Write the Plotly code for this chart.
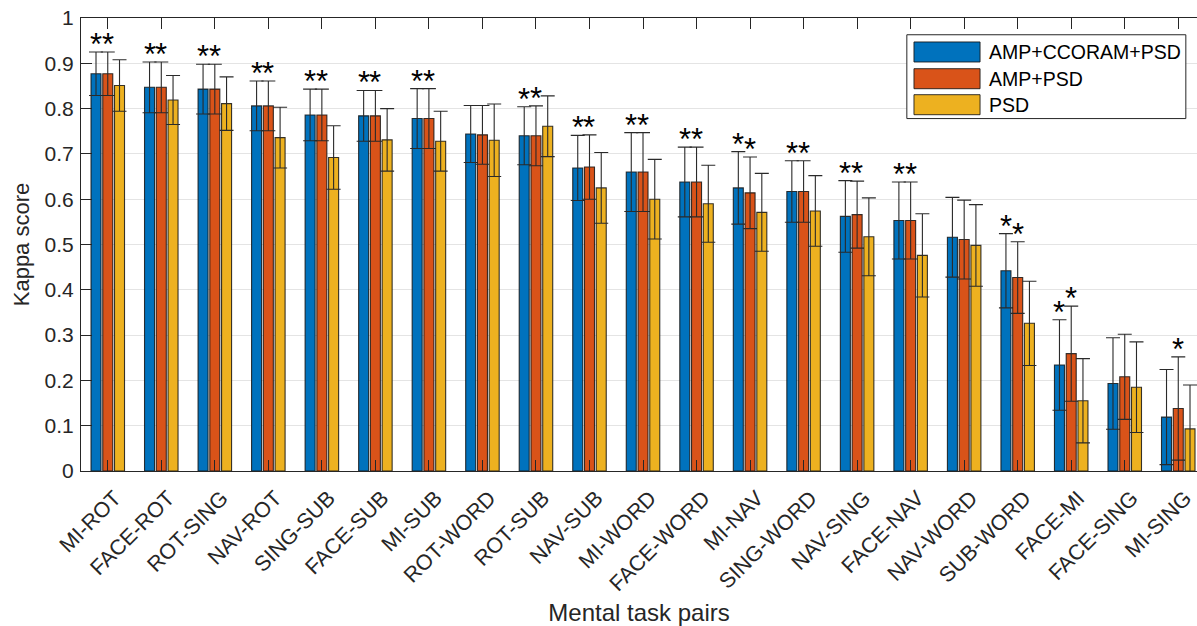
import plotly.graph_objects as go

categories = ["MI-ROT", "FACE-ROT", "ROT-SING", "NAV-ROT", "SING-SUB", "FACE-SUB", "MI-SUB",
              "ROT-WORD", "ROT-SUB", "NAV-SUB", "MI-WORD", "FACE-WORD", "MI-NAV", "SING-WORD",
              "NAV-SING", "FACE-NAV", "NAV-WORD", "SUB-WORD", "FACE-MI", "FACE-SING", "MI-SING"]

series_names = ["AMP+CCORAM+PSD", "AMP+PSD", "PSD"]

amp_ccoram_psd = [0.877, 0.847, 0.843, 0.806, 0.786, 0.784, 0.778, 0.744, 0.740, 0.669, 0.660,
                  0.638, 0.625, 0.617, 0.562, 0.553, 0.516, 0.442, 0.234, 0.193, 0.119]
amp_ccoram_psd_std = [0.048, 0.056, 0.055, 0.055, 0.057, 0.056, 0.066, 0.063, 0.064, 0.072, 0.087,
                      0.077, 0.080, 0.068, 0.079, 0.085, 0.088, 0.082, 0.100, 0.101, 0.105]
amp_psd = [0.877, 0.847, 0.843, 0.806, 0.786, 0.784, 0.778, 0.742, 0.740, 0.671, 0.660,
           0.638, 0.614, 0.617, 0.566, 0.553, 0.511, 0.427, 0.259, 0.208, 0.138]
amp_psd_std = [0.048, 0.056, 0.055, 0.055, 0.057, 0.056, 0.066, 0.065, 0.066, 0.071, 0.087,
               0.077, 0.079, 0.068, 0.074, 0.085, 0.087, 0.079, 0.105, 0.094, 0.114]
psd = [0.851, 0.819, 0.811, 0.736, 0.692, 0.731, 0.728, 0.730, 0.761, 0.625, 0.600,
       0.590, 0.571, 0.574, 0.517, 0.476, 0.498, 0.326, 0.155, 0.185, 0.093]
psd_std = [0.057, 0.054, 0.059, 0.067, 0.070, 0.069, 0.066, 0.080, 0.067, 0.078, 0.088,
           0.085, 0.086, 0.078, 0.086, 0.092, 0.090, 0.093, 0.093, 0.100, 0.097]

# significance markers (1 = '*' above the bar)
sig_amp_ccoram_psd = [1, 1, 1, 1, 1, 1, 1, 0, 1, 1, 1, 1, 1, 1, 1, 1, 0, 1, 1, 0, 0]
sig_amp_psd = [1, 1, 1, 1, 1, 1, 1, 0, 1, 1, 1, 1, 1, 1, 1, 1, 0, 1, 1, 0, 1]

colors = ["#0072BD", "#D95319", "#EDB120"]
slot = 0.2195
bar_w = 0.187
shifts = [-slot, 0.0, slot]

idx = list(range(1, len(categories) + 1))
values = [amp_ccoram_psd, amp_psd, psd]
stds = [amp_ccoram_psd_std, amp_psd_std, psd_std]
sigs = [sig_amp_ccoram_psd, sig_amp_psd, None]

FONT = "Liberation Sans, Arial, sans-serif"

fig = go.Figure()
for name, vals, sd, col, sh in zip(series_names, values, stds, colors, shifts):
    fig.add_trace(go.Bar(
        x=idx, y=vals, name=name, width=bar_w, offset=sh - bar_w / 2,
        marker=dict(color=col, line=dict(color="rgba(20,20,20,0.85)", width=1.1)),
        error_y=dict(type="data", array=sd, visible=True, color="#2a2a2a",
                     thickness=1.1, width=7),
        showlegend=False,
    ))

annotations = []
for vals, sd, sig, sh in zip(values, stds, sigs, shifts):
    if sig is None:
        continue
    for i, (v, s, g) in enumerate(zip(vals, sd, sig)):
        if g:
            annotations.append(dict(
                x=idx[i] + sh, y=v + s, xref="x", yref="y", text="*", showarrow=False,
                xanchor="center", yanchor="bottom", yshift=-12,
                font=dict(family=FONT, size=31, color="black"),
            ))

# manual legend (wide swatches like the reference)
leg_x0, leg_x1, leg_y0, leg_y1 = 0.740, 0.990, 0.778, 0.963
row_y = [0.925, 0.866, 0.8086]
sw_x0, sw_x1, sw_h = 0.7464, 0.8056, 0.0221
shapes = [dict(type="rect", xref="paper", yref="paper", x0=leg_x0, x1=leg_x1, y0=leg_y0, y1=leg_y1,
               fillcolor="white", line=dict(color="#262626", width=1), layer="above")]
for name, col, ry in zip(series_names, colors, row_y):
    shapes.append(dict(type="rect", xref="paper", yref="paper", x0=sw_x0, x1=sw_x1,
                       y0=ry - sw_h, y1=ry + sw_h, fillcolor=col,
                       line=dict(color="rgba(20,20,20,0.85)", width=1), layer="above"))
    annotations.append(dict(x=0.8115, y=ry, xref="paper", yref="paper", text=name, showarrow=False,
                            xanchor="left", yanchor="middle",
                            font=dict(family=FONT, size=19.5, color="black")))

fig.update_layout(
    width=1197, height=626,
    margin=dict(l=81, r=0, t=18, b=155),
    paper_bgcolor="white", plot_bgcolor="white",
    barmode="overlay",
    font=dict(family=FONT, color="#262626", size=20),
    annotations=annotations,
    shapes=shapes,
    xaxis=dict(
        range=[0.5, 21.35], tickmode="array", tickvals=idx, ticktext=categories,
        tickangle=-45, ticks="inside", ticklen=11, tickcolor="#262626", tickwidth=1,
        showline=True, linecolor="#262626", linewidth=1, mirror="ticks",
        showgrid=False, zeroline=False, automargin=False,
        tickfont=dict(size=21.5, color="#262626"), ticklabelstandoff=5, ticklabelshift=7,
        ticklabeloverflow="allow",
        title=dict(text="Mental task pairs", font=dict(size=24, color="#262626"), standoff=14),
    ),
    yaxis=dict(
        range=[0, 1], dtick=0.1, tick0=0, ticks="inside", ticklen=11, tickcolor="#262626",
        tickwidth=1, showline=True, linecolor="#262626", linewidth=1, mirror=False,
        showgrid=True, gridcolor="#e4e4e4", gridwidth=1, zeroline=False, automargin=False,
        tickfont=dict(size=21, color="#262626"), ticklabelstandoff=2,
        ticklabeloverflow="allow",
        title=dict(text="Kappa score", font=dict(size=22, color="#262626"), standoff=8),
    ),
)

# remove the default 8px page margin so the figure sits at the window's top-left corner
fig.write_html("out.html", config={"displayModeBar": False},
               post_script="document.body.style.margin='0px';")
